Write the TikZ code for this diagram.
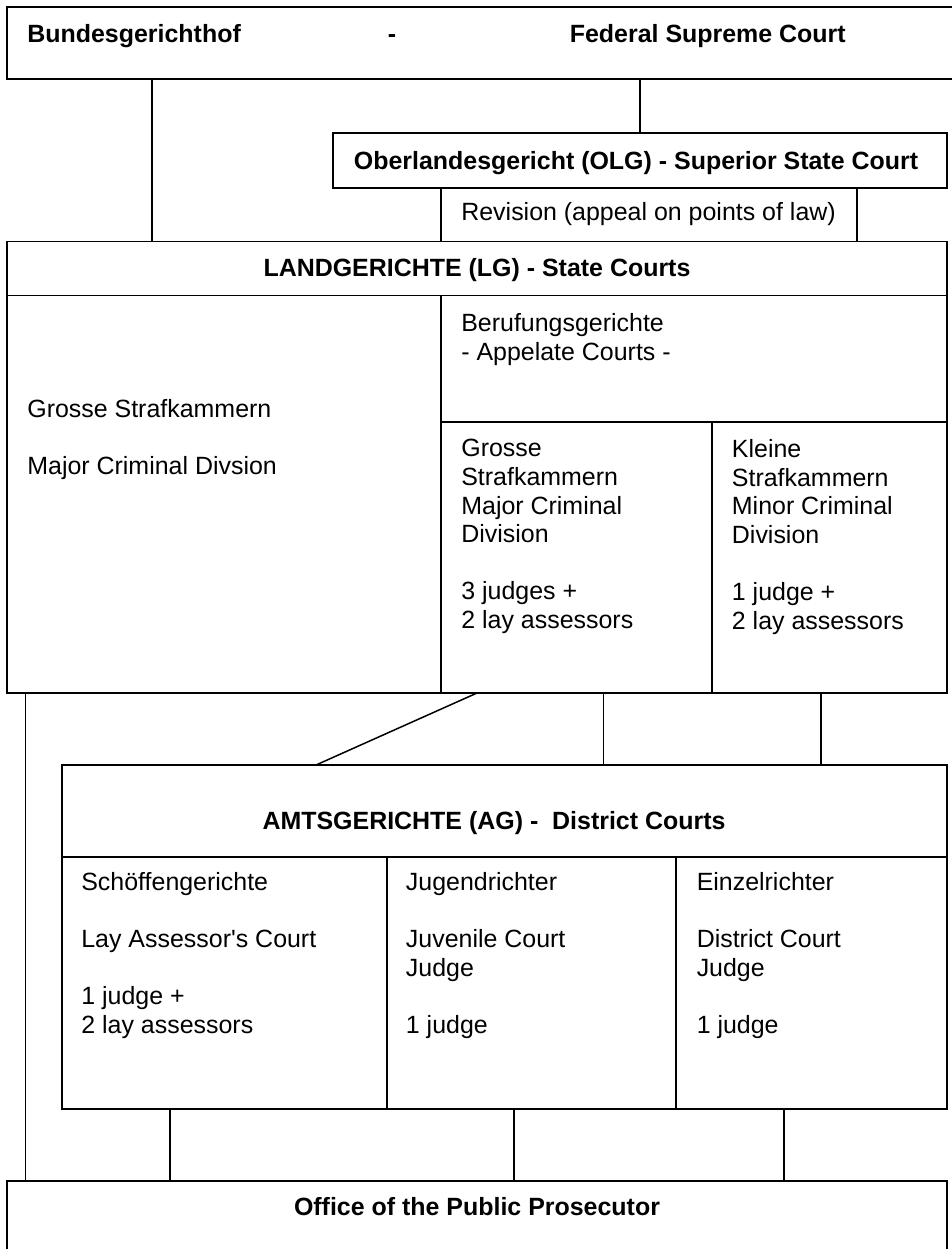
\documentclass[tikz,border=0pt]{standalone}
\usepackage{fontspec}
\setmainfont{Liberation Sans}
\usepackage{tikz}
\usetikzlibrary{positioning,fit,calc}
\tikzset{box/.style={draw,line width=0.85pt,inner sep=0pt},
         txt/.style={inner sep=0pt,anchor=north west,align=left},
         head/.style={inner sep=0pt,font=\fontsize{14.2}{16.3}\selectfont\bfseries},
         line/.style={line width=0.85pt}
}
\newcommand{\gap}{\\[16.3pt]}

\begin{document}
\begin{tikzpicture}[x=0.02cm,y=-0.02cm,font=\fontsize{14.2}{16.3}\selectfont]
\useasboundingbox (0,0) rectangle (952,1249);

\node[box,fit={(7,7) (965,79)}] (bgh) {};
\node[box,fit={(333,133) (947,188)}] (olg) {};
\node[box,fit={(441,188) (857,241.5)}] (rev) {};
\node[box,fit={(7,241.5) (947,295.5)}] (lg) {};
\node[box,fit={(7,295.5) (441,693)}] (lgl) {};
\node[box,fit={(441,295.5) (947,422)}] (beruf) {};
\node[box,fit={(441,422) (712,693)}] (gross) {};
\node[box,fit={(712,422) (947,693)}] (klein) {};
\node[box,fit={(62,765) (947,857)}] (ag) {};
\node[box,fit={(62,857) (387,1109)}] (schoeff) {};
\node[box,fit={(387,857) (676,1109)}] (jugend) {};
\node[box,fit={(676,857) (947,1109)}] (einzel) {};
\node[box,fit={(7,1181) (947,1265)}] (sta) {};

\node[head,anchor=base west] (bghde) at (27,42) {Bundesgerichthof};
\node[head,anchor=base] (bghdash) at (392,42) {-};
\node[head,anchor=base west] (bghen) at (569.5,42) {Federal Supreme Court};
\node[head,anchor=base] (olgtxt) at (636,169) {Oberlandesgericht (OLG) - Superior State Court};
\node[txt,anchor=west] (revtxt) at (461,214) {Revision (appeal on points of law)};
\node[head,anchor=base] (lgtxt) at (477,276) {LANDGERICHTE (LG) - State Courts};
\node[txt] (lgltxt) at (27,399) {Grosse Strafkammern\gap Major Criminal Divsion};
\node[txt] (berufttxt) at (461,313) {Berufungsgerichte\\- Appelate Courts -};
\node[txt] (grosstxt) at (461,439) {Grosse\\Strafkammern\\Major Criminal\\Division\gap 3 judges +\\2 lay assessors};
\node[txt] (kleintxt) at (731.6,439) {Kleine\\Strafkammern\\Minor Criminal\\Division\gap 1 judge +\\2 lay assessors};
\node[head] (agtxt) at (494,823) {AMTSGERICHTE (AG) -\ \ District Courts};
\node[txt] (schoefftxt) at (81,872) {Schöffengerichte\gap Lay Assessor\textquotesingle s Court\gap 1 judge +\\2 lay assessors};
\node[txt] (jugendtxt) at (405.6,872) {Jugendrichter\gap Juvenile Court\\Judge\gap 1 judge};
\node[txt] (einzeltxt) at (696.4,872) {Einzelrichter\gap District Court\\Judge\gap 1 judge};
\node[head] (statxt) at (477,1207) {Office of the Public Prosecutor};

\coordinate (b1) at (152,79);
\coordinate (s1) at (25.5,693);
\coordinate (d1) at (477,693);
\coordinate (d2) at (316,765);
\coordinate (g1) at (603.5,693);
\coordinate (k1) at (821,693);
\coordinate (a1) at (170,1109);
\coordinate (a2) at (514,1109);
\coordinate (a3) at (784,1109);

\draw[line] (b1)--(b1 |- lg.north);
\draw[line] (olg.north)--(olg.north |- bgh.south);
\draw[line] (s1)--(s1 |- sta.north);
\draw[line] (d1)--(d2);
\draw[line] (g1)--(g1 |- ag.north);
\draw[line] (k1)--(k1 |- ag.north);
\draw[line] (a1)--(a1 |- sta.north);
\draw[line] (a2)--(a2 |- sta.north);
\draw[line] (a3)--(a3 |- sta.north);

\end{tikzpicture}
\end{document}
